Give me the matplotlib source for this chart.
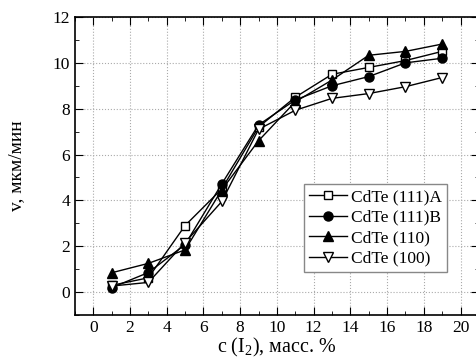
import matplotlib
matplotlib.use('Agg') #no display
import matplotlib.pyplot as plt #plotting functions
from matplotlib.ticker import MultipleLocator #tick spacing

plt.rcParams['font.family'] = ['Liberation Serif', 'DejaVu Serif'] #times-like font
plt.rcParams['mathtext.fontset'] = 'custom'
plt.rcParams['mathtext.rm'] = 'Liberation Serif'
plt.rcParams['mathtext.default'] = 'regular'

conc = [1, 3, 5, 7, 9, 11, 13, 15, 17, 19] #c(I2), mass %
v_111a = [0.29, 0.62, 2.9, 4.5, 7.2, 8.5, 9.5, 9.8, 10.1, 10.5] #CdTe (111)A
v_111b = [0.19, 0.85, 2.07, 4.72, 7.29, 8.38, 9.0, 9.4, 10.0, 10.2] #CdTe (111)B
v_110 = [0.84, 1.25, 1.84, 4.46, 6.6, 8.3, 9.25, 10.33, 10.5, 10.82] #CdTe (110)
v_100 = [0.26, 0.42, 2.16, 3.95, 7.1, 7.93, 8.45, 8.66, 8.96, 9.36] #CdTe (100)
labels = ['CdTe (111)A', 'CdTe (111)B', 'CdTe (110)', 'CdTe (100)']

fig = plt.figure(figsize=(4.77, 3.62), dpi=100)
ax = fig.add_axes([0.157, 0.130, 0.847, 0.823])

ax.plot(conc, v_111a, '-s', color='k', mfc='white', mec='k', ms=6, lw=1, label=labels[0])
ax.plot(conc, v_111b, '-o', color='k', mfc='k', ms=6.5, lw=1, label=labels[1])
ax.plot(conc, v_110, '-^', color='k', mfc='k', ms=7, lw=1, label=labels[2])
ax.plot(conc, v_100, '-v', color='k', mfc='white', mec='k', ms=7, lw=1, label=labels[3])

ax.set_xlim(-1, 21)
ax.set_ylim(-1, 12)
ax.xaxis.set_major_locator(MultipleLocator(2))
ax.xaxis.set_minor_locator(MultipleLocator(1))
ax.yaxis.set_major_locator(MultipleLocator(2))
ax.yaxis.set_minor_locator(MultipleLocator(1))
ax.set_yticks([0, 2, 4, 6, 8, 10, 12])
ax.tick_params(which='both', direction='in', top=True, right=True, labelsize=12.5)
ax.tick_params(which='major', length=6)
ax.tick_params(which='minor', length=3)
ax.grid(which='major', ls=':', color='#aaaaaa', lw=0.8)
for s in ax.spines.values():
    s.set_linewidth(1.2)

ax.set_xlabel('c (I$_2$), масс. %', fontsize=14.5, labelpad=0)
ax.set_ylabel('v, мкм/мин', fontsize=14, labelpad=20)

leg = ax.legend(loc='lower right', bbox_to_anchor=(0.921, 0.144), fontsize=12.5, fancybox=False,
                edgecolor='#888888', framealpha=1, handlelength=2.2, borderpad=0.3,
                labelspacing=0.25, handletextpad=0.2, borderaxespad=0)

fig.savefig('out.png', dpi=100)
